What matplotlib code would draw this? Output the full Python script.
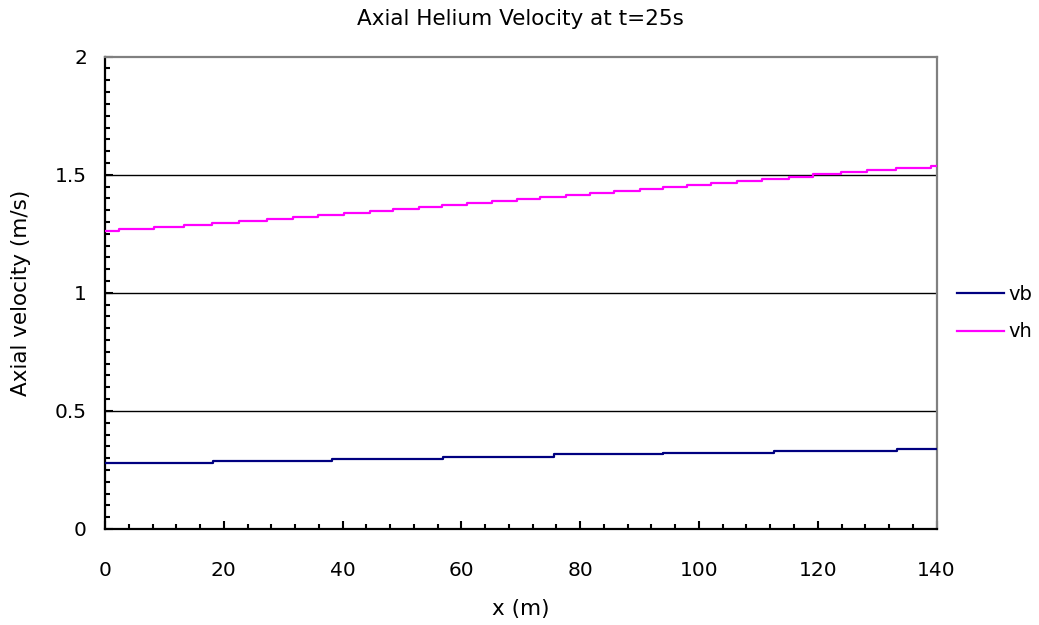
import numpy as np
import matplotlib
matplotlib.use("Agg")
import matplotlib.pyplot as plt
from matplotlib.ticker import MultipleLocator

plt.rcParams['font.family'] = ['DejaVu Sans']

# Axial position where each plotted level begins (m), and the level (m/s)
x_vb = [0.0, 18.25, 38.19, 56.89, 75.53, 93.95, 112.59, 133.26]
vb = [0.281, 0.288, 0.296, 0.307, 0.316, 0.323, 0.330, 0.339]

x_vh = [0.0, 2.36, 8.25, 13.31, 18.08, 22.63, 27.24, 31.67, 35.88, 40.26,
        44.64, 48.47, 52.78, 56.72, 60.94, 65.15, 69.36, 73.28, 77.66, 81.71,
        85.75, 90.13, 93.95, 98.00, 102.09, 106.42, 110.57, 115.12, 119.16,
        123.83, 128.32, 133.09, 138.99]
vh = [1.262, 1.271, 1.280, 1.288, 1.297, 1.304, 1.313, 1.322, 1.331, 1.339,
      1.348, 1.356, 1.365, 1.373, 1.381, 1.390, 1.398, 1.407, 1.415, 1.424,
      1.432, 1.441, 1.449, 1.458, 1.466, 1.475, 1.483, 1.492, 1.502, 1.510,
      1.519, 1.527, 1.536]

x_end = 140
series_names = ["vb", "vh"]
series_colors = ["#000080", "#FF00FF"]

title = "Axial Helium Velocity at t=25s"
xlabel = "x (m)"
ylabel = "Axial velocity (m/s)"

fig = plt.figure(figsize=(10.39, 6.25), dpi=100)
ax = fig.add_axes([0.1011, 0.1536, 0.8003, 0.7557])

for xs, ys, name, col in zip([x_vb, x_vh], [vb, vh], series_names, series_colors):
    xx = np.append(xs, x_end)
    yy = np.append(ys, ys[-1])
    ax.step(xx, yy, where='post', color=col, lw=1.6, label=name, zorder=3)

ax.set_xlim(0, 140)
ax.set_ylim(0, 2)
ax.xaxis.set_major_locator(MultipleLocator(20))
ax.xaxis.set_minor_locator(MultipleLocator(4))
ax.yaxis.set_major_locator(MultipleLocator(0.5))
ax.yaxis.set_minor_locator(MultipleLocator(0.05))
ax.set_yticks([0, 0.5, 1, 1.5, 2])
ax.set_yticklabels(["0", "0.5", "1", "1.5", "2"])

ax.tick_params(which='both', direction='in', color='black', width=1.5,
               top=False, right=False, labelsize=14.5)
ax.tick_params(which='major', length=6)
ax.tick_params(which='minor', length=3.8)
ax.tick_params(axis='y', pad=13)
ax.tick_params(axis='x', pad=23)

# horizontal gridlines at the interior major ticks only
ax.yaxis.grid(True, which='major', color='black', lw=1.0, zorder=1)
for val, gl in zip(ax.get_yticks(), ax.get_ygridlines()):
    if val <= 0 or val >= 2:
        gl.set_visible(False)
ax.set_axisbelow(True)

for side in ['left', 'bottom']:
    ax.spines[side].set_color('black')
    ax.spines[side].set_linewidth(1.6)
for side in ['top', 'right']:
    ax.spines[side].set_color('#808080')
    ax.spines[side].set_linewidth(1.6)

ax.set_title(title, fontsize=15.5, pad=23)
ax.set_xlabel(xlabel, fontsize=15.5, labelpad=14)
ax.set_ylabel(ylabel, fontsize=15.5, labelpad=17)

ax.legend(loc='center left', bbox_to_anchor=(0.9135, 0.499), bbox_transform=fig.transFigure,
          frameon=False, fontsize=14, handlelength=2.4, handletextpad=0.25,
          labelspacing=0.95, borderaxespad=0)

fig.savefig("out.png", dpi=100)
